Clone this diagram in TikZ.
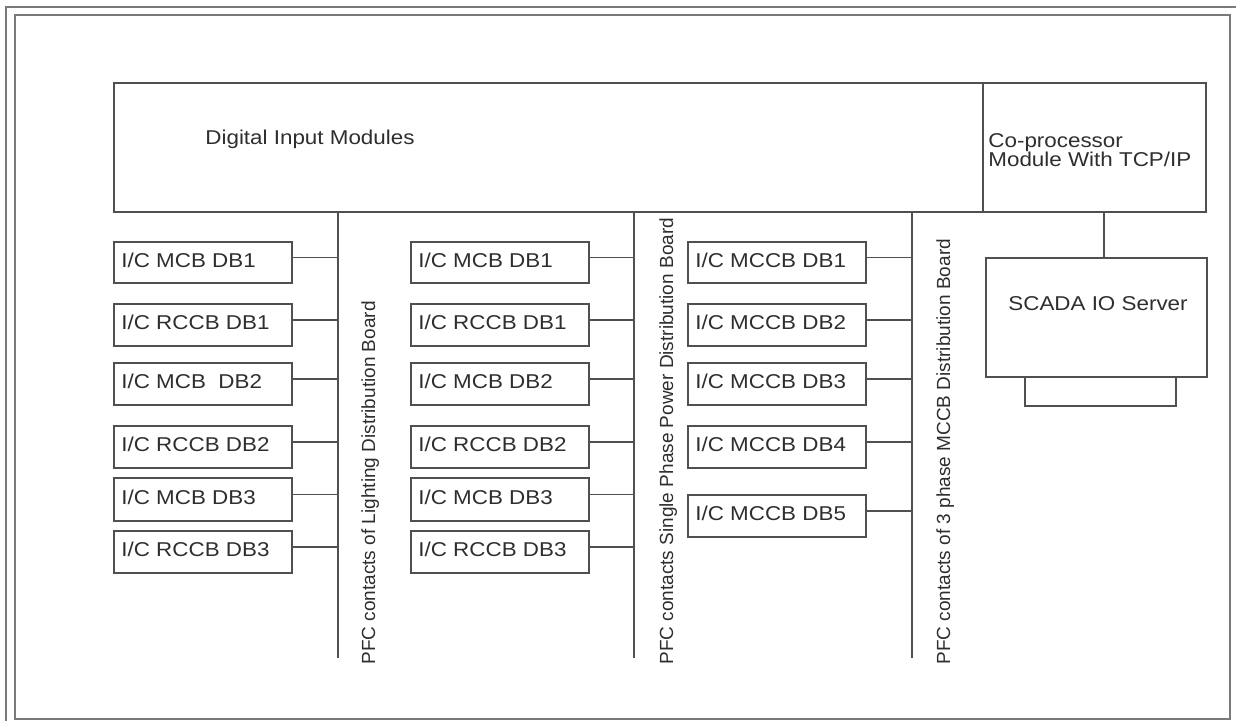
\documentclass[tikz,border=0pt]{standalone}
\usepackage{fontspec}
\setmainfont{Liberation Sans}
\definecolor{ln}{HTML}{505050}
\definecolor{fr}{HTML}{7A7A7A}
\definecolor{tx}{HTML}{2E2E2E}
\newcommand{\hs}[1]{\scalebox{1.12}[1]{#1}}
\tikzset{
  box/.style={draw=ln, line width=0.7pt, rectangle, inner sep=0pt, outer sep=0pt},
  lbl/.style={text=tx, font=\fontsize{10}{12}\selectfont, inner sep=0pt},
  vlbl/.style={text=tx, font=\fontsize{9.5}{11}\selectfont, inner sep=0pt, rotate=90, anchor=base west},
  wire/.style={draw=ln, line width=0.7pt},
  frame/.style={draw=fr, line width=0.8pt}
}
% \bx{name}{x1}{y1}{x2}{y2}
\newcommand{\bx}[5]{\node[box, anchor=north west, minimum width={(#4-#2)*0.5pt}, minimum height={(#5-#3)*0.5pt}] (#1) at (#2,#3) {};}
\begin{document}
\begin{tikzpicture}[x=0.5pt,y=-0.5pt]
\useasboundingbox (0,0) rectangle (1236,721);
% frames
\draw[frame] (6,721) -- (6,7) -- (1236,7);
\draw[frame] (15,15) rectangle (1230,719);
% top modules
\bx{dim}{114}{83}{983}{212}
\node[lbl, anchor=west] (dimtxt) at (205,139) {\hs{Digital Input Modules}};
\bx{cop}{983}{83}{1206}{212}
\node[lbl, anchor=west, align=left, font=\fontsize{10}{9.5}\selectfont] (coptxt) at (988,150) {\hs{Co-processor}\\[0pt]\hs{Module With TCP/IP}};
\bx{scada}{986}{258}{1207}{377}
\node[lbl] (scadatxt) at (1098,304) {\hs{SCADA IO Server}};
\bx{base}{1025}{377}{1176}{406}
\coordinate (tap) at (1104,212);
\draw[wire] (cop.south -| tap) -- (scada.north -| tap);
% buses
\coordinate (bus1) at (338,658);
\coordinate (bus2) at (634,658);
\coordinate (bus3) at (912,658);
\draw[wire] (dim.south -| bus1) -- (bus1);
\draw[wire] (dim.south -| bus2) -- (bus2);
\draw[wire] (dim.south -| bus3) -- (bus3);
\node[vlbl] (v1) at (375,665) {PFC contacts of Lighting Distribution Board};
\node[vlbl] (v2) at (673,665) {PFC contacts Single Phase Power Distribution Board};
\node[vlbl] (v3) at (950,665) {PFC contacts of 3 phase MCCB Distribution Board};
% left column
\bx{l1}{114}{242}{292}{283}
\bx{l2}{114}{304}{292}{346}
\bx{l3}{114}{363}{292}{405}
\bx{l4}{114}{426}{292}{468}
\bx{l5}{114}{478}{292}{521}
\bx{l6}{114}{531}{292}{573}
% middle column
\bx{m1}{411}{242}{589}{283}
\bx{m2}{411}{304}{589}{346}
\bx{m3}{411}{363}{589}{405}
\bx{m4}{411}{426}{589}{468}
\bx{m5}{411}{478}{589}{521}
\bx{m6}{411}{531}{589}{573}
% right column
\bx{r1}{688}{242}{866}{283}
\bx{r2}{688}{304}{866}{346}
\bx{r3}{688}{363}{866}{405}
\bx{r4}{688}{426}{866}{468}
\bx{r5}{688}{495}{866}{537}
% labels
\foreach \n/\t in {l1/{I/C MCB DB1}, l2/{I/C RCCB DB1}, l3/{I/C MCB\ \ DB2}, l4/{I/C RCCB DB2}, l5/{I/C MCB DB3}, l6/{I/C RCCB DB3},
                   m1/{I/C MCB DB1}, m2/{I/C RCCB DB1}, m3/{I/C MCB DB2}, m4/{I/C RCCB DB2}, m5/{I/C MCB DB3}, m6/{I/C RCCB DB3},
                   r1/{I/C MCCB DB1}, r2/{I/C MCCB DB2}, r3/{I/C MCCB DB3}, r4/{I/C MCCB DB4}, r5/{I/C MCCB DB5}}
  \node[lbl, anchor=west] (\n t) at ([xshift=3.5pt, yshift=1.2pt]\n.west) {\hs{\t}};
% connectors
\foreach \n in {l1,l2,l3,l4,l5,l6}
  \draw[wire] ([yshift=2.5pt]\n.east) -- ([yshift=2.5pt]\n.east -| bus1);
\foreach \n in {m1,m2,m3,m4,m5,m6}
  \draw[wire] ([yshift=2.5pt]\n.east) -- ([yshift=2.5pt]\n.east -| bus2);
\foreach \n in {r1,r2,r3,r4,r5}
  \draw[wire] ([yshift=2.5pt]\n.east) -- ([yshift=2.5pt]\n.east -| bus3);
\end{tikzpicture}
\end{document}
